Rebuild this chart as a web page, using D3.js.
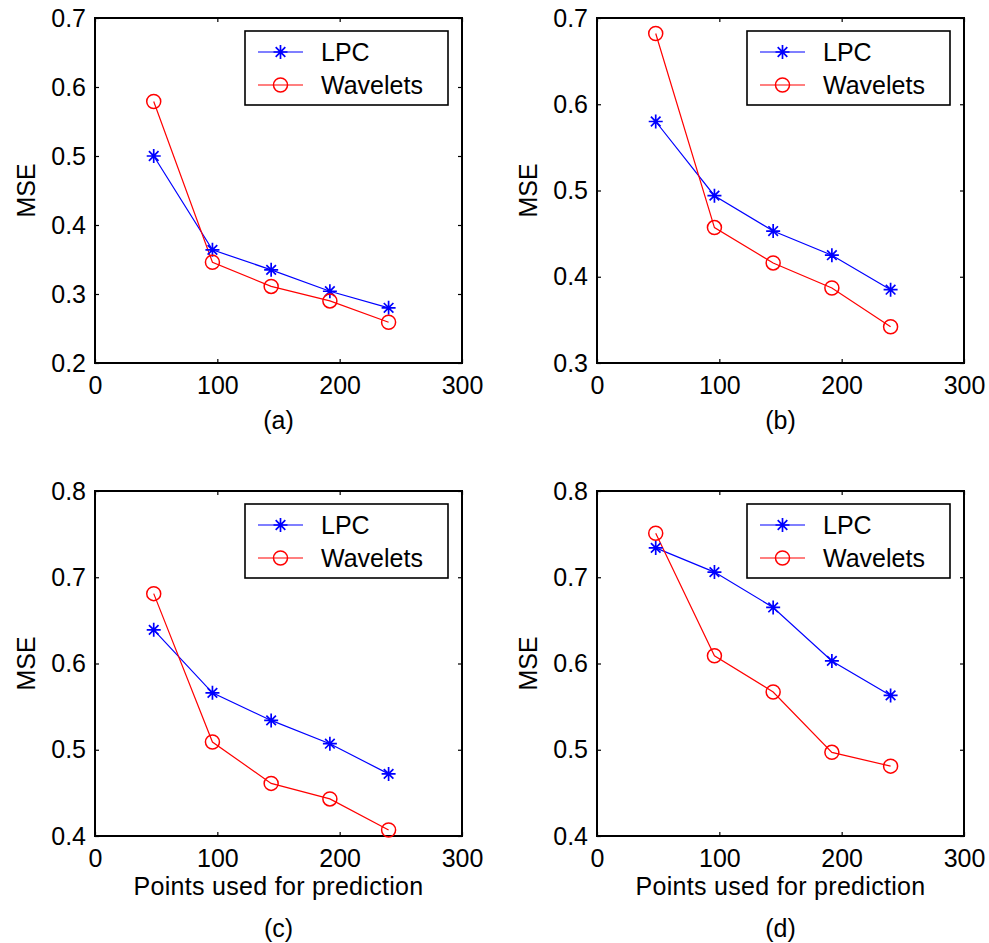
<html>
    <head>
        <script src="https://d3js.org/d3.v7.min.js"></script>
        <style>
            body { margin: 0; background: #fff; }
            text { font-family: "Liberation Sans", Arial, sans-serif; font-size: 25px; fill: #000; }
        </style>
    </head>
    <body>
        <svg id="fig" width="989" height="943"></svg>
        <script>
            // points used for prediction (x values shared by all panels)
            const xPoints = [48, 96, 144, 192, 240];
            const xTicks = [0, 100, 200, 300];

            // MSE values
            const lpcA = [0.500, 0.364, 0.335, 0.304, 0.280];
            const wavA = [0.579, 0.346, 0.311, 0.290, 0.259];
            const lpcB = [0.580, 0.494, 0.453, 0.425, 0.385];
            const wavB = [0.682, 0.457, 0.416, 0.387, 0.342];
            const lpcC = [0.639, 0.566, 0.534, 0.507, 0.472];
            const wavC = [0.681, 0.509, 0.461, 0.443, 0.407];
            const lpcD = [0.734, 0.706, 0.665, 0.603, 0.563];
            const wavD = [0.751, 0.609, 0.567, 0.497, 0.481];

            const yTicksTop = [0.2, 0.3, 0.4, 0.5, 0.6, 0.7];
            const yTicksB = [0.3, 0.4, 0.5, 0.6, 0.7];
            const yTicksBottom = [0.4, 0.5, 0.6, 0.7, 0.8];

            const seriesNames = ['LPC', 'Wavelets'];
            const panelLabels = ['(a)', '(b)', '(c)', '(d)'];
            const xLabel = 'Points used for prediction';
            const yLabel = 'MSE';

            const svg = d3.select('svg#fig');
            const pw = 367, ph = 345;

            const panels = [
                {left: 95,  top: 18,  lpc: lpcA, wav: wavA, ticks: yTicksTop,    name: panelLabels[0], xl: false},
                {left: 597, top: 18,  lpc: lpcB, wav: wavB, ticks: yTicksB,      name: panelLabels[1], xl: false},
                {left: 95,  top: 491, lpc: lpcC, wav: wavC, ticks: yTicksBottom, name: panelLabels[2], xl: true},
                {left: 597, top: 491, lpc: lpcD, wav: wavD, ticks: yTicksBottom, name: panelLabels[3], xl: true}
            ];

            const starPath = 'M-7,0H7M0,-7V7M-4.8,-4.8L4.8,4.8M-4.8,4.8L4.8,-4.8';

            function drawPanel(p) {
                const g = svg.append('g').attr('transform', `translate(${p.left},${p.top})`);
                const x = d3.scaleLinear().domain([0, 300]).range([0, pw]);
                const y = d3.scaleLinear().domain(d3.extent(p.ticks)).range([ph, 0]);

                // inward ticks on all four sides
                g.append('g').attr('transform', `translate(0,${ph})`)
                 .call(d3.axisBottom(x).tickValues(xTicks).tickSize(-4).tickPadding(13).tickFormat(d3.format('d')));
                g.append('g').call(d3.axisTop(x).tickValues(xTicks).tickSize(-4).tickFormat(''));
                g.append('g').call(d3.axisLeft(y).tickValues(p.ticks).tickSize(-4).tickPadding(9).tickFormat(d3.format('.1f')));
                g.append('g').attr('transform', `translate(${pw},0)`)
                 .call(d3.axisRight(y).tickValues(p.ticks).tickSize(-4).tickFormat(''));
                g.selectAll('.domain').remove();
                g.selectAll('.tick line').attr('stroke', '#000').attr('stroke-width', 1.2);
                g.selectAll('.tick text').style('font-size', '25px').attr('fill', '#000');

                g.append('rect').attr('width', pw).attr('height', ph)
                 .attr('fill', 'none').attr('stroke', '#000').attr('stroke-width', 2);

                const line = d3.line().x((d, i) => x(xPoints[i])).y(d => y(d));

                g.append('path').datum(p.lpc).attr('d', line)
                 .attr('fill', 'none').attr('stroke', '#0000ff').attr('stroke-width', 1.2);
                g.append('path').datum(p.wav).attr('d', line)
                 .attr('fill', 'none').attr('stroke', '#ff0000').attr('stroke-width', 1.2);

                g.selectAll('path.star').data(p.lpc).join('path')
                 .attr('class', 'star').attr('d', starPath)
                 .attr('transform', (d, i) => `translate(${x(xPoints[i])},${y(d)})`)
                 .attr('fill', 'none').attr('stroke', '#0000ff').attr('stroke-width', 1.7);
                g.selectAll('circle.ring').data(p.wav).join('circle')
                 .attr('class', 'ring').attr('r', 7)
                 .attr('cx', (d, i) => x(xPoints[i])).attr('cy', d => y(d))
                 .attr('fill', 'none').attr('stroke', '#ff0000').attr('stroke-width', 1.5);

                // legend
                const lg = g.append('g').attr('transform', 'translate(150,13)');
                lg.append('rect').attr('width', 203).attr('height', 74)
                  .attr('fill', '#fff').attr('stroke', '#000').attr('stroke-width', 1.6);
                seriesNames.forEach((s, i) => {
                    const ly = 21 + i * 33;
                    const col = i === 0 ? '#0000ff' : '#ff0000';
                    lg.append('line').attr('x1', 13).attr('x2', 58).attr('y1', ly).attr('y2', ly)
                      .attr('stroke', col).attr('stroke-width', 1.2);
                    if (i === 0) {
                        lg.append('path').attr('d', starPath).attr('transform', `translate(35.5,${ly})`)
                          .attr('fill', 'none').attr('stroke', col).attr('stroke-width', 1.7);
                    } else {
                        lg.append('circle').attr('cx', 35.5).attr('cy', ly).attr('r', 7)
                          .attr('fill', 'none').attr('stroke', col).attr('stroke-width', 1.5);
                    }
                    lg.append('text').attr('x', 76).attr('y', ly).attr('dy', '0.36em').text(s);
                });

                g.append('text').attr('transform', `translate(-69,${ph / 2}) rotate(-90)`)
                 .attr('text-anchor', 'middle').attr('dy', '0.36em').text(yLabel);
                if (p.xl) {
                    g.append('text').attr('x', pw / 2).attr('y', ph + 50).attr('dy', '0.36em')
                     .attr('text-anchor', 'middle').style('letter-spacing', '0.3px').text(xLabel);
                    g.append('text').attr('x', pw / 2).attr('y', ph + 92).attr('dy', '0.36em')
                     .attr('text-anchor', 'middle').text(p.name);
                } else {
                    g.append('text').attr('x', pw / 2).attr('y', ph + 57).attr('dy', '0.36em')
                     .attr('text-anchor', 'middle').text(p.name);
                }
            }

            panels.forEach(drawPanel);
        </script>
    </body>
</html>
